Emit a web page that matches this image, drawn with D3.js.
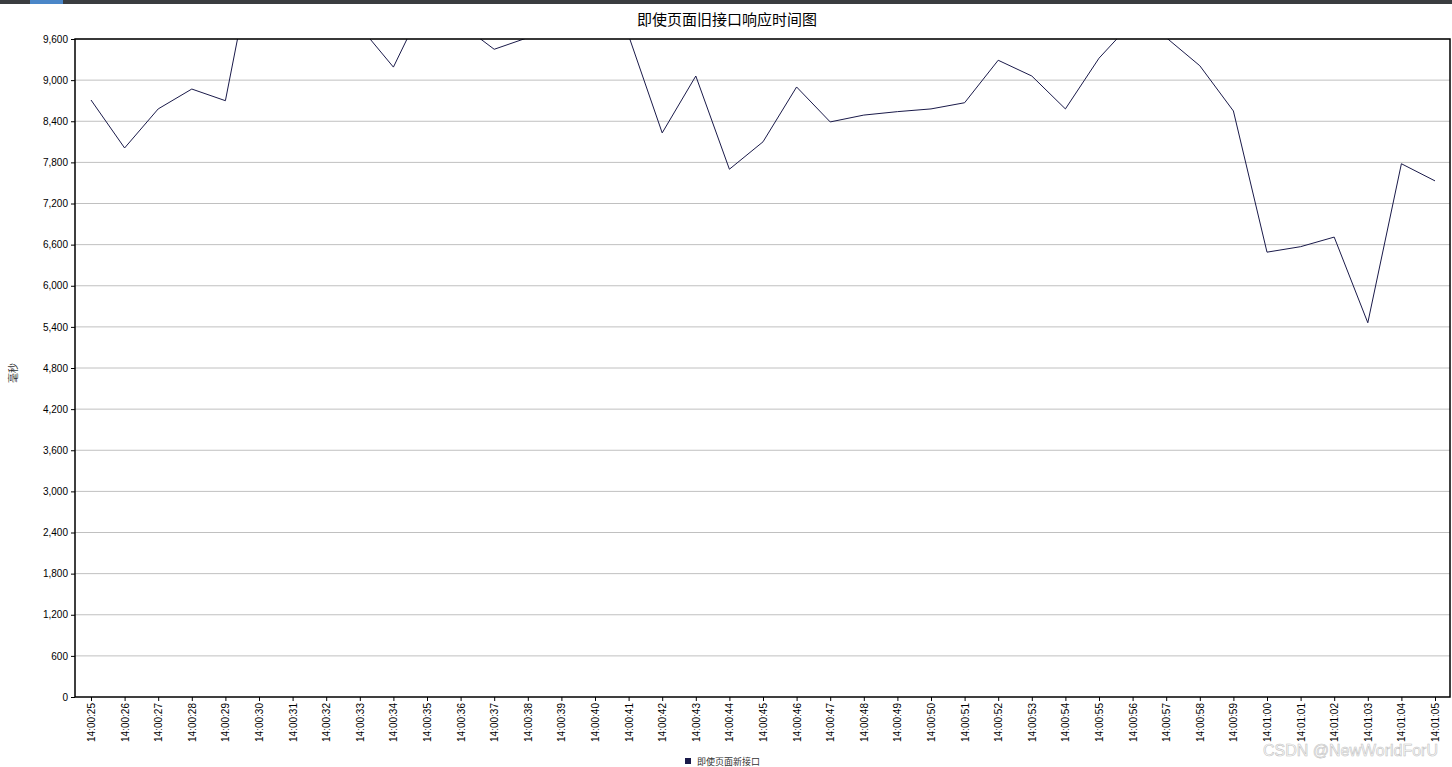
<!DOCTYPE html>
<html><head><meta charset="utf-8">
<script src="https://cdn.jsdelivr.net/npm/d3@7"></script>
<style>body{margin:0;background:#fff;overflow:hidden}svg{display:block}</style>
</head><body><svg id="chart"></svg>
<script>
const times = ['14:00:25','14:00:26','14:00:27','14:00:28','14:00:29','14:00:30','14:00:31','14:00:32','14:00:33','14:00:34',
  '14:00:35','14:00:36','14:00:37','14:00:38','14:00:39','14:00:40','14:00:41','14:00:42','14:00:43','14:00:44',
  '14:00:45','14:00:46','14:00:47','14:00:48','14:00:49','14:00:50','14:00:51','14:00:52','14:00:53','14:00:54',
  '14:00:55','14:00:56','14:00:57','14:00:58','14:00:59','14:01:00','14:01:01','14:01:02','14:01:03','14:01:04','14:01:05'];
const values = [8710,8010,8580,8870,8700,11200,10300,10300,9780,9190,
  10200,9820,9450,9620,10100,10100,9650,8230,9060,7700,
  8100,8900,8390,8490,8540,8580,8670,9290,9060,8580,
  9320,9850,9620,9210,8550,6490,6570,6710,5460,7780,7530];
const yTicks = d3.range(0, 9601, 600);
const seriesName = '即使页面新接口';

const width = 1452, height = 767;
const mLeft = 75, mRight = 1450, mTop = 39, mBottom = 697;
const svg = d3.select('#chart').attr('width', width).attr('height', height);

// window strip at the top
svg.append('rect').attr('x', 0).attr('y', 0).attr('width', width).attr('height', 4).attr('fill', '#3a3d40');
svg.append('rect').attr('x', 30).attr('y', 0).attr('width', 33).attr('height', 4).attr('fill', '#4a86c8');

const x = d3.scalePoint().domain(times).range([91, 1435]);
const y = d3.scaleLinear().domain([0, 9600]).range([mBottom, mTop]);

svg.append('g').selectAll('line').data(yTicks.slice(1)).join('line')
  .attr('x1', mLeft).attr('x2', mRight).attr('y1', d => y(d)).attr('y2', d => y(d))
  .attr('stroke', '#c0c0c0').attr('stroke-width', 1);

svg.append('defs').append('clipPath').attr('id', 'clip')
  .append('rect').attr('x', mLeft).attr('y', mTop).attr('width', mRight - mLeft).attr('height', mBottom - mTop);

svg.append('path').datum(values)
  .attr('clip-path', 'url(#clip)')
  .attr('fill', 'none').attr('stroke', '#1a1a4a').attr('stroke-width', 1)
  .attr('d', d3.line().x((d, i) => x(times[i])).y(d => y(d)));

svg.append('rect').attr('x', mLeft).attr('y', mTop).attr('width', mRight - mLeft).attr('height', mBottom - mTop)
  .attr('fill', 'none').attr('stroke', '#000').attr('stroke-width', 1.5);

const yAxis = svg.append('g').attr('transform', `translate(${mLeft},0)`)
  .call(d3.axisLeft(y).tickValues(yTicks).tickFormat(d3.format(',')).tickSize(4).tickSizeOuter(0));
yAxis.select('.domain').remove();
yAxis.selectAll('text').attr('font-family', 'Liberation Sans, Arial').attr('font-size', 10).attr('fill', '#000');

const xAxis = svg.append('g').attr('transform', `translate(0,${mBottom})`)
  .call(d3.axisBottom(x).tickSize(4).tickSizeOuter(0));
xAxis.select('.domain').remove();
xAxis.selectAll('text')
  .attr('font-family', 'Liberation Sans, Arial').attr('font-size', 10).attr('fill', '#000')
  .attr('transform', 'rotate(-90)').attr('text-anchor', 'end')
  .attr('x', -6).attr('y', 0).attr('dy', '0.35em');

svg.append('text').attr('x', 727).attr('y', 25).attr('text-anchor', 'middle')
  .attr('font-family', 'Noto Sans CJK SC').attr('font-size', 15).text('即使页面旧接口响应时间图');

svg.append('text').attr('transform', 'translate(17,373) rotate(-90)').attr('text-anchor', 'middle')
  .attr('font-family', 'Noto Sans CJK SC').attr('font-size', 10).attr('fill', '#333').text('毫秒');

svg.append('rect').attr('x', 685).attr('y', 758).attr('width', 6).attr('height', 6).attr('fill', '#1a1a4a');
svg.append('text').attr('x', 697).attr('y', 765).attr('font-family', 'Noto Sans CJK SC')
  .attr('font-size', 9).attr('fill', '#333').text(seriesName);

svg.append('text').attr('x', 1438).attr('y', 756).attr('text-anchor', 'end')
  .attr('font-family', 'Liberation Sans, Arial').attr('font-size', 16).attr('fill', '#fff')
  .attr('stroke', '#bbb').attr('stroke-width', 0.6).attr('opacity', 0.9).text('CSDN @NewWorldForU');
</script></body></html>
